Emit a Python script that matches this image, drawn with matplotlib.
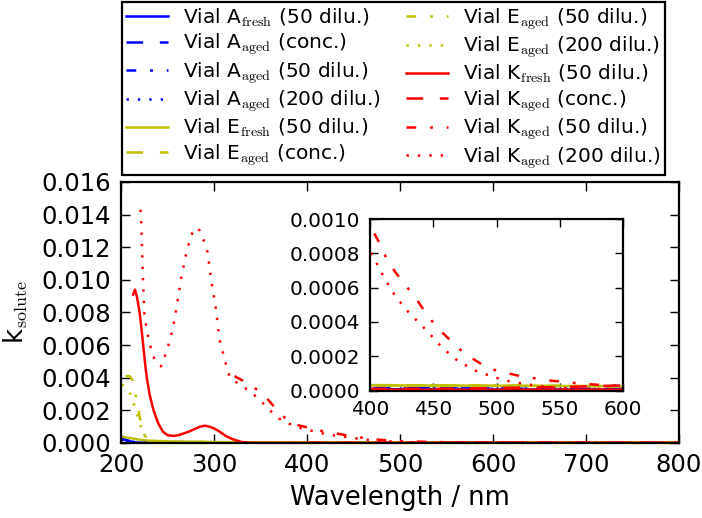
import matplotlib
matplotlib.use('Agg')
import matplotlib.pyplot as plt
from matplotlib.ticker import FormatStrFormatter, MultipleLocator

plt.rcParams['mathtext.fontset'] = 'cm'
plt.rcParams['lines.scale_dashes'] = False
plt.rcParams['lines.dashed_pattern'] = [12, 12]
plt.rcParams['lines.dashdot_pattern'] = [7, 10, 2, 10]
plt.rcParams['lines.dotted_pattern'] = [1.7, 6.5]
plt.rcParams['xtick.direction'] = 'in'
plt.rcParams['ytick.direction'] = 'in'
plt.rcParams['xtick.top'] = True
plt.rcParams['ytick.right'] = True

# vial A
a_fresh_wl = [200, 205, 210, 215, 220, 250, 300, 400, 500, 600, 700, 800]
a_fresh_k = [0.0003, 0.0002, 0.0001, 0.00004, 0.00002, 0.00001, 0.00001, 0.000008, 0.000006, 0.000005, 0.000004, 0.000003]
a_conc_wl = [350, 400, 450, 500, 550, 600, 700, 800]
a_conc_k = [0.00002, 0.000015, 0.000013, 0.000012, 0.00001, 0.00001, 0.000008, 0.000006]
a_50_wl = [200, 210, 220, 250, 300, 400, 500, 600, 700, 800]
a_50_k = [0.00025, 0.0001, 0.00005, 0.00002, 0.000015, 0.000015, 0.000012, 0.00001, 0.000008, 0.000006]
a_200_wl = [200, 210, 220, 250, 300, 400, 500, 600, 700, 800]
a_200_k = [0.0002, 0.00008, 0.00004, 0.00002, 0.000015, 0.000012, 0.00001, 0.000008, 0.000006, 0.000005]

# vial E
e_fresh_wl = [200, 210, 220, 230, 250, 300, 350, 400, 500, 600, 700, 800]
e_fresh_k = [0.0004, 0.0003, 0.0002, 0.00014, 0.0001, 0.00006, 0.00004, 0.00003, 0.000028, 0.000025, 0.00002, 0.00002]
e_conc_wl = [350, 400, 450, 500, 550, 600, 700, 800]
e_conc_k = [0.00004, 0.000032, 0.00003, 0.000028, 0.000026, 0.000025, 0.00002, 0.000018]
e_50_wl = [205, 209, 212, 217, 220, 224, 226, 230, 240, 260, 300, 400, 500, 600, 700, 800]
e_50_k = [0.0041, 0.0041, 0.0039, 0.0026, 0.0016, 0.0008, 0.0003, 0.00015, 0.0001, 0.00008, 0.00005, 0.00003, 0.00003, 0.000025, 0.00002, 0.00002]
e_200_wl = [201, 205, 210, 215, 220, 225, 230, 240, 300, 400, 500, 600, 700, 800]
e_200_k = [0.0036, 0.0034, 0.0030, 0.0022, 0.0012, 0.0005, 0.00015, 0.0001, 0.00005, 0.00003, 0.000028, 0.000025, 0.00002, 0.00002]

# vial K
k_fresh_wl = [213, 215, 217, 220, 222, 224, 226, 228, 231, 235, 240, 245, 250, 256, 262, 268, 274, 280, 285,
              290, 295, 300, 306, 312, 320, 330, 340, 400, 500, 600, 700, 800]
k_fresh_k = [0.0091, 0.0094, 0.0090, 0.0080, 0.0070, 0.0059, 0.0048, 0.0039, 0.0029, 0.0020, 0.0012, 0.0007,
             0.00048, 0.00043, 0.00048, 0.0006, 0.00072, 0.00088, 0.001, 0.00106, 0.001, 0.0009, 0.0007,
             0.00045, 0.00023, 0.00006, 0.00001, 0.000005, 0.000005, 0.000005, 0.000005, 0.000005]
k_conc_wl = [400, 450, 500, 550, 600, 650, 700, 750, 800]
k_conc_k = [0.00001, 0.00001, 0.000015, 0.00002, 0.00003, 0.00002, 0.00002, 0.00001, 0.00001]
k_50_wl = [322, 335, 352, 365, 377, 390, 406, 413, 420, 437, 445, 454, 474, 493, 515, 539, 554, 567, 587, 600, 700, 800]
k_50_k = [0.0041, 0.0037, 0.00305, 0.0022, 0.0015, 0.0011, 0.00088, 0.00077, 0.00069, 0.00053, 0.00044, 0.00036,
          0.00022, 0.00013, 0.00009, 0.00006, 0.00005, 0.00004, 0.00003, 0.00003, 0.00002, 0.00001]
k_200_wl = [221, 222, 223, 225, 228, 233, 237, 243, 247, 251, 256, 260, 265, 270, 275, 280, 285, 289, 293, 297,
            302, 306, 312, 317, 322, 330, 340, 350, 360, 370, 380, 390, 404, 411, 420, 430, 446, 457, 469, 483,
            498, 512, 530, 548, 570, 600, 700, 800]
k_200_k = [0.0143, 0.0131, 0.0110, 0.0080, 0.0068, 0.0056, 0.0050, 0.0047, 0.0053, 0.0060, 0.0071, 0.0084, 0.0102,
           0.0116, 0.0127, 0.0132, 0.0130, 0.0124, 0.0117, 0.0100, 0.0082, 0.0063, 0.0050, 0.0040, 0.0038, 0.0035,
           0.0031, 0.0026, 0.0020, 0.0015, 0.0012, 0.00095, 0.00076, 0.00066, 0.00055, 0.00046, 0.00034, 0.00025,
           0.000175, 0.000117, 0.000078, 0.00005, 0.00003, 0.000016, 0.00001, 0.000008, 0.000006, 0.000005]

series = [
    (a_fresh_wl, a_fresh_k, 'b', '-', 'Vial A$_\\mathrm{fresh}$ (50 dilu.)'),
    (a_conc_wl, a_conc_k, 'b', '--', 'Vial A$_\\mathrm{aged}$ (conc.)'),
    (a_50_wl, a_50_k, 'b', '-.', 'Vial A$_\\mathrm{aged}$ (50 dilu.)'),
    (a_200_wl, a_200_k, 'b', ':', 'Vial A$_\\mathrm{aged}$ (200 dilu.)'),
    (e_fresh_wl, e_fresh_k, 'y', '-', 'Vial E$_\\mathrm{fresh}$ (50 dilu.)'),
    (e_conc_wl, e_conc_k, 'y', '--', 'Vial E$_\\mathrm{aged}$ (conc.)'),
    (e_50_wl, e_50_k, 'y', '-.', 'Vial E$_\\mathrm{aged}$ (50 dilu.)'),
    (e_200_wl, e_200_k, 'y', ':', 'Vial E$_\\mathrm{aged}$ (200 dilu.)'),
    (k_fresh_wl, k_fresh_k, 'r', '-', 'Vial K$_\\mathrm{fresh}$ (50 dilu.)'),
    (k_conc_wl, k_conc_k, 'r', '--', 'Vial K$_\\mathrm{aged}$ (conc.)'),
    (k_50_wl, k_50_k, 'r', '-.', 'Vial K$_\\mathrm{aged}$ (50 dilu.)'),
    (k_200_wl, k_200_k, 'r', ':', 'Vial K$_\\mathrm{aged}$ (200 dilu.)'),
]

fig = plt.figure(figsize=(7.02, 5.18), dpi=100)
ax = fig.add_axes([0.1724, 0.1448, 0.7949, 0.5039])
ins = fig.add_axes([0.5271, 0.2461, 0.3604, 0.3311])

for wl, k, c, ls, lab in series:
    ax.plot(wl, k, color=c, linestyle=ls, lw=1.8, label=lab)
    ins.plot(wl, k, color=c, linestyle=ls, lw=1.8)

ax.set_xlim(200, 800)
ax.set_ylim(0, 0.016)
ax.xaxis.set_major_locator(MultipleLocator(100))
ax.yaxis.set_major_locator(MultipleLocator(0.002))
ax.yaxis.set_major_formatter(FormatStrFormatter('%.3f'))
ax.tick_params(labelsize=17.5, length=6.5, width=1, pad=7)
ax.set_xlabel('Wavelength / nm', fontsize=18.5, labelpad=6)
ax.set_ylabel('k$_\\mathrm{solute}$', fontsize=18.5, labelpad=8)

ins.set_xlim(400, 600)
ins.set_ylim(0, 0.001)
ins.xaxis.set_major_locator(MultipleLocator(50))
ins.yaxis.set_major_locator(MultipleLocator(0.0002))
ins.yaxis.set_major_formatter(FormatStrFormatter('%.4f'))
ins.tick_params(labelsize=14.4, length=6, width=1, pad=7)

for a in (ax, ins):
    for s in a.spines.values():
        s.set_linewidth(1.6)

handles, labels = ax.get_legend_handles_labels()
leg = fig.legend(handles, labels, loc='upper left', bbox_to_anchor=(0.1738, 0.996), ncol=2,
                 fontsize=14.5, frameon=True, fancybox=False, edgecolor='k', framealpha=1,
                 borderaxespad=0, borderpad=0.2, handlelength=2.1, handletextpad=0.75,
                 columnspacing=1.2, labelspacing=0.14)
leg.get_frame().set_linewidth(1.6)

fig.savefig('out.png', dpi=100)
